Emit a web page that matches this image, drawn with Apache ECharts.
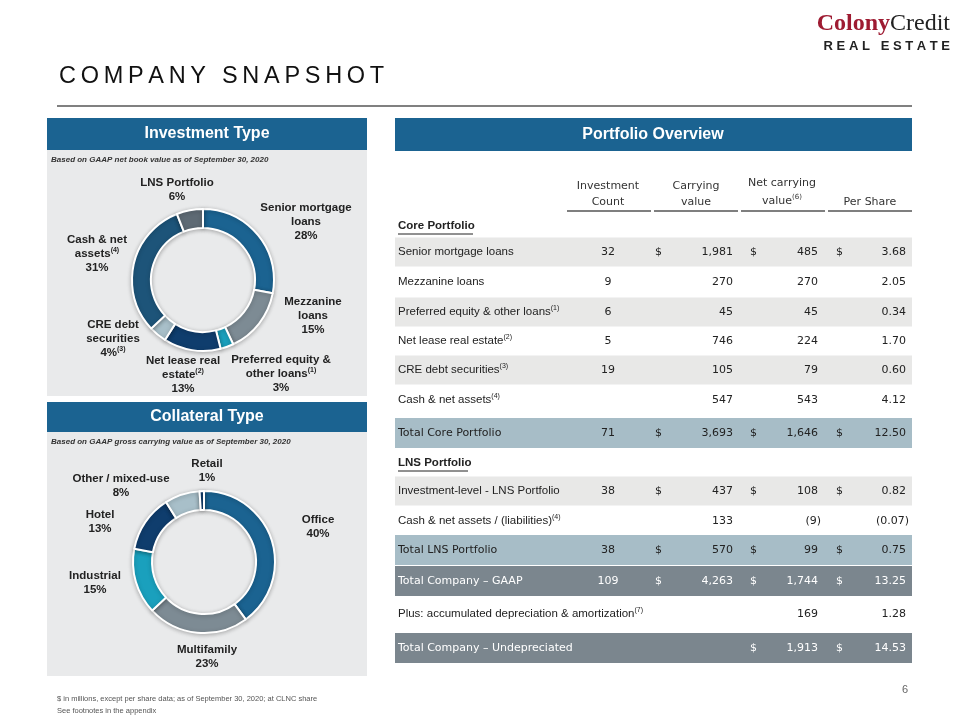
<!DOCTYPE html>
<html>
<head>
<meta charset="utf-8">
<script src="https://cdn.jsdelivr.net/npm/echarts@6/dist/echarts.min.js"></script>
<style>
html, body { margin: 0; padding: 0; background: #fff; }
#container { width: 960px; height: 720px; }
</style>
</head>
<body>
<div id="container"></div>
<script>
// Investment type donut
const investNames = ['Senior mortgage loans', 'Mezzanine loans', 'Preferred equity & other loans', 'Net lease real estate', 'CRE debt securities', 'Cash & net assets', 'LNS Portfolio']
const investPct = [28, 15, 3, 13, 4, 31, 6]
const investLabelText = [
  'Senior mortgage\nloans\n28%',
  'Mezzanine\nloans\n15%',
  'Preferred equity &\nother loans{s|(1)}\n3%',
  'Net lease real\nestate{s|(2)}\n13%',
  'CRE debt\nsecurities\n4%{s|(3)}',
  'Cash & net\nassets{s|(4)}\n31%',
  'LNS Portfolio\n6%'
]

// Collateral type donut
const collatNames = ['Office', 'Multifamily', 'Industrial', 'Hotel', 'Other / mixed-use', 'Retail']
const collatPct = [40, 23, 15, 13, 8, 1]
const collatLabelText = [
  'Office\n40%',
  'Multifamily\n23%',
  'Industrial\n15%',
  'Hotel\n13%',
  'Other / mixed-use{s|(5)}\n8%',
  'Retail\n1%'
]

// Portfolio overview table
const rowLabels = ['Senior mortgage loans', 'Mezzanine loans', 'Preferred equity & other loans', 'Net lease real estate', 'CRE debt securities', 'Cash & net assets', 'Total Core Portfolio', 'Investment-level - LNS Portfolio', 'Cash & net assets / (liabilities)', 'Total LNS Portfolio', 'Total Company – GAAP', 'Plus: accumulated depreciation & amortization', 'Total Company – Undepreciated']
const rowNotes = ['', '', '1', '2', '3', '4', '', '', '4', '', '', '7', '']
const investmentCount = ['32', '9', '6', '5', '19', '', '71', '38', '', '38', '109', '', '']
const carryingValue = ['1,981', '270', '45', '746', '105', '547', '3,693', '437', '133', '570', '4,263', '', '']
const netCarryingValue = ['485', '270', '45', '224', '79', '543', '1,646', '108', '(9)', '99', '1,744', '169', '1,913']
const perShare = ['3.68', '2.05', '0.34', '1.70', '0.60', '4.12', '12.50', '0.82', '(0.07)', '0.75', '13.25', '1.28', '14.53']
const carryingDollar = [1, 0, 0, 0, 0, 0, 1, 1, 0, 1, 1, 0, 0]
const netDollar = [1, 0, 0, 0, 0, 0, 1, 1, 0, 1, 1, 0, 1]

// layout of the table (pixels)
const rowY = [252, 282, 312, 341, 370, 400, 433, 491, 521, 550, 581, 614, 648]
const rowKind = ['shade', 'plain', 'shade', 'plain', 'shade', 'plain', 'total', 'shade', 'plain', 'total', 'grand', 'plain', 'grand']

const investLabelPos = [[306, 222], [313, 316], [281, 374], [183, 375], [113, 339], [97, 254], [177, 190]]
const collatLabelPos = [[318, 527], [207, 657], [95, 583], [100, 522], [121, 486], [207, 471]]

const BLUE = '#1b6391'
const SANS = 'Liberation Sans'
const WIDE = 'DejaVu Sans'

function txt(x, y, text, o) {
  const st = Object.assign({ text: text, fontFamily: SANS, fontSize: 12, fill: '#333', align: 'left', verticalAlign: 'middle' }, o || {})
  st.textAlign = st.align
  st.textVerticalAlign = st.verticalAlign
  return { type: 'text', x: x, y: y, z: 10, style: st }
}
function rect(x, y, w, h, fill, z) {
  return { type: 'rect', z: z || 0, shape: { x: x, y: y, width: w, height: h }, style: { fill: fill } }
}
function line(x1, y1, x2, y2, stroke, w) {
  return { type: 'line', z: 5, shape: { x1: x1, y1: y1, x2: x2, y2: y2 }, style: { stroke: stroke, lineWidth: w || 1 } }
}

const sup = { fontSize: 7, verticalAlign: 'top', lineHeight: 12 }

let g = []
// logo + title
g.push(txt(950, 24, '{c|Colony}{d|Credit}', {
  align: 'right',
  rich: {
    c: { fontFamily: 'Liberation Serif', fontWeight: 'bold', fontSize: 24, fill: '#9e1b32' },
    d: { fontFamily: 'Liberation Serif', fontSize: 24, fill: '#222' }
  }
}))
g.push(txt(950, 46, 'R E A L   E S T A T E', { align: 'right', fontSize: 13, fontWeight: 'bold', fill: '#222' }))
// letter-spaced title (thin spaces between letters)
g.push(txt(59, 77, 'COMPANY SNAPSHOT'.split('').join('\u2009'), { fontSize: 23.5, fill: '#111' }))
g.push(line(57, 106, 912, 106, '#808080', 2))

// left panels
g.push(rect(47, 118, 320, 32, BLUE))
g.push(txt(207, 134, 'Investment Type', { align: 'center', fontSize: 16, fontWeight: 'bold', fill: '#fff' }))
g.push(rect(47, 150, 320, 246, '#e9eaeb'))
g.push(txt(51, 160, 'Based on GAAP net book value as of September 30, 2020', { fontSize: 8, fontWeight: 'bold', fontStyle: 'italic', fill: '#333' }))

g.push(rect(47, 402, 320, 30, BLUE))
g.push(txt(207, 417, 'Collateral Type', { align: 'center', fontSize: 16, fontWeight: 'bold', fill: '#fff' }))
g.push(rect(47, 432, 320, 244, '#e9eaeb'))
g.push(txt(51, 442, 'Based on GAAP gross carrying value as of September 30, 2020', { fontSize: 8, fontWeight: 'bold', fontStyle: 'italic', fill: '#333' }))

// right panel header
g.push(rect(395, 118, 517, 33, BLUE))
g.push(txt(653, 135, 'Portfolio Overview', { align: 'center', fontSize: 16, fontWeight: 'bold', fill: '#fff' }))

// column headers
const hdr = { fontFamily: WIDE, fontSize: 11, fill: '#333', align: 'center' }
g.push(txt(608, 186, 'Investment', hdr), txt(608, 202, 'Count', hdr))
g.push(txt(696, 186, 'Carrying', hdr), txt(696, 202, 'value', hdr))
g.push(txt(782, 183, 'Net carrying', hdr))
g.push(txt(782, 201, 'value{s|(6)}', Object.assign({}, hdr, { rich: { s: { fontSize: 7, fontFamily: WIDE, verticalAlign: 'top', lineHeight: 14, fill: '#333' } } })))
g.push(txt(870, 202, 'Per Share', hdr))
g.push(line(567, 211, 651, 211, '#555', 1.5), line(654, 211, 738, 211, '#555', 1.5), line(741, 211, 825, 211, '#555', 1.5), line(828, 211, 912, 211, '#555', 1.5))

// section headers
g.push(txt(398, 226, 'Core Portfolio', { fontSize: 11.5, fontWeight: 'bold', fill: '#222' }))
g.push(line(398, 234, 473, 234, '#222', 1))
g.push(txt(398, 463, 'LNS Portfolio', { fontSize: 11.5, fontWeight: 'bold', fill: '#222' }))
g.push(line(398, 471, 468, 471, '#222', 1))

rowLabels.forEach(function (lab, i) {
  const y = rowY[i]
  const kind = rowKind[i]
  const isTotal = kind === 'total' || kind === 'grand'
  if (kind === 'shade') g.push(rect(395, y - 14.5, 517, 29, '#e8e8e7'))
  if (kind === 'total') g.push(rect(395, y - 15, 517, 30, '#a7bdc7'))
  if (kind === 'grand') g.push(rect(395, y - 15, 517, 30, '#7b868e'))
  const fill = kind === 'grand' ? '#fff' : '#222'
  const fam = isTotal ? WIDE : SANS
  const fs = isTotal ? 11 : 11.5
  const richS = { s: { fontSize: 7, fontFamily: fam, verticalAlign: 'top', lineHeight: 14, fill: fill } }
  const labText = rowNotes[i] ? lab + '{s|(' + rowNotes[i] + ')}' : lab
  g.push(txt(398, y, labText, { fontFamily: fam, fontSize: fs, fill: fill, rich: richS }))
  const num = { fontFamily: WIDE, fontSize: 11, fill: fill, align: 'right' }
  const shift = function (v) { return v.charAt(v.length - 1) === ')' ? 3 : 0 }
  if (investmentCount[i]) g.push(txt(608, y, investmentCount[i], Object.assign({}, num, { align: 'center' })))
  if (carryingDollar[i]) g.push(txt(662, y, '$', num))
  if (carryingValue[i]) g.push(txt(733 + shift(carryingValue[i]), y, carryingValue[i], num))
  if (netDollar[i]) g.push(txt(757, y, '$', num))
  if (netCarryingValue[i]) g.push(txt(818 + shift(netCarryingValue[i]), y, netCarryingValue[i], num))
  if (netDollar[i]) g.push(txt(843, y, '$', num))
  if (perShare[i]) g.push(txt(906 + shift(perShare[i]), y, perShare[i], num))
})

// footer
g.push(txt(57, 699, '$ in millions, except per share data; as of September 30, 2020; at CLNC share', { fontSize: 7.5, fill: '#555' }))
g.push(txt(57, 711, 'See footnotes in the appendix', { fontSize: 7.5, fill: '#555' }))
g.push(txt(905, 690, '6', { fontSize: 11, fill: '#666', align: 'center' }))

function donut(names, values, labels, pos, colors, center) {
  return {
    type: 'pie',
    center: center,
    radius: [52, 71],
    startAngle: 90,
    clockwise: true,
    silent: true,
    z: 3,
    data: names.map(function (n, i) { return { name: n, value: values[i], itemStyle: { color: colors[i] } } }),
    itemStyle: { borderColor: '#fff', borderWidth: 2, shadowBlur: 4, shadowColor: 'rgba(0,0,0,0.25)', shadowOffsetY: 1 },
    label: {
      show: true,
      position: 'outside',
      formatter: function (p) { return labels[p.dataIndex] },
      fontFamily: SANS,
      fontWeight: 'bold',
      fontSize: 11.5,
      lineHeight: 14,
      color: '#222',
      rich: { s: sup }
    },
    labelLine: { show: false },
    labelLayout: function (p) {
      return { x: pos[p.dataIndex][0], y: pos[p.dataIndex][1], align: 'center', verticalAlign: 'middle' }
    }
  }
}

const investColors = ['#1b6391', '#7d8b94', '#1aa0bd', '#0f3d6d', '#a8bfc9', '#1d5479', '#5e6a74']
const collatColors = ['#1b6391', '#7d8b94', '#1aa0bd', '#0f3d6d', '#a8bfc9', '#0f3d6d']

let myChart = echarts.init(document.getElementById('container'), null, { renderer: 'canvas' })
let option = {
  animation: false,
  backgroundColor: '#fff',
  graphic: { elements: g },
  series: [
    donut(investNames, investPct, investLabelText, investLabelPos, investColors, [203, 280]),
    donut(collatNames, collatPct, collatLabelText, collatLabelPos, collatColors, [204, 562])
  ]
}
myChart.setOption(option)
</script>
</body>
</html>
